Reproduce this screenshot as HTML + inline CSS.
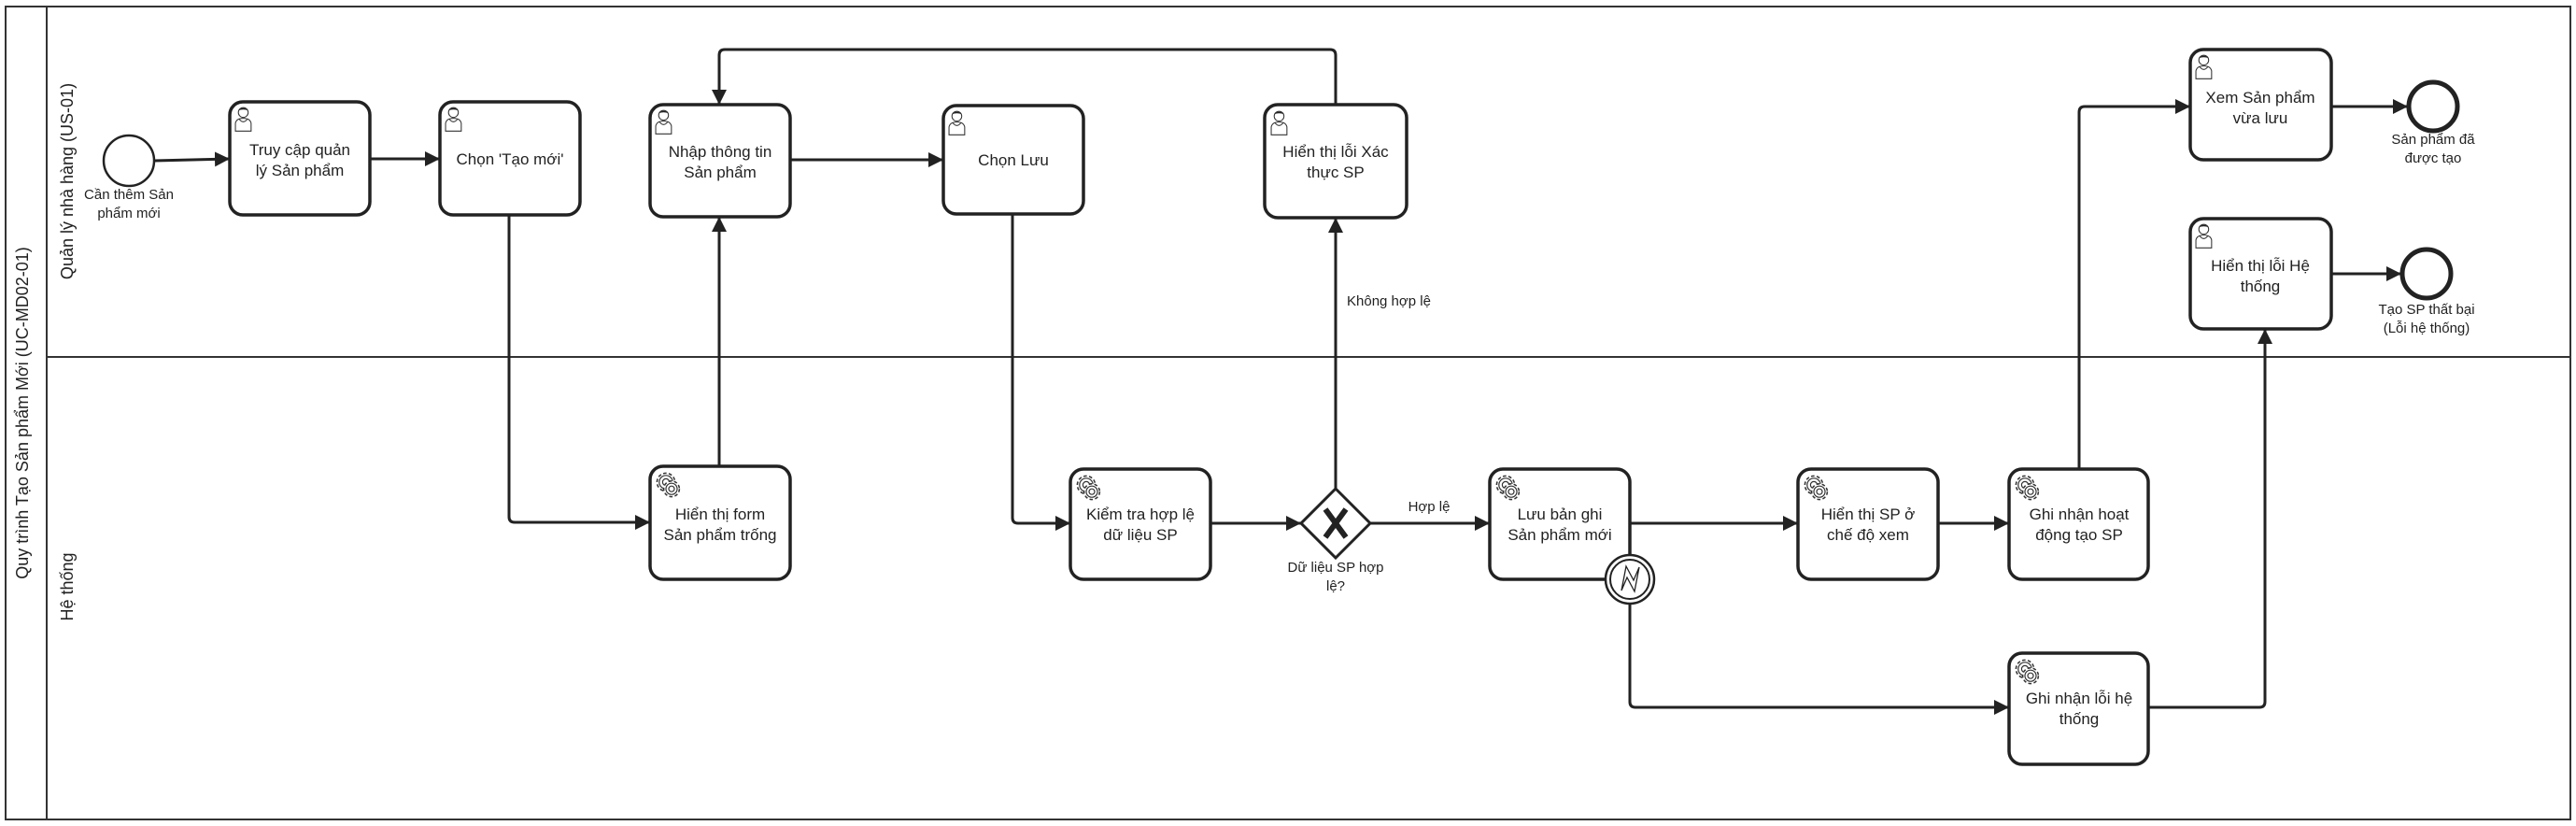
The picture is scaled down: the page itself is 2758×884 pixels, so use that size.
<!DOCTYPE html>
<html><head><meta charset="utf-8"><style>
html,body{margin:0;padding:0;background:#fff}
svg{display:block}
text{font-family:"Liberation Sans",Arial,sans-serif;fill:#222}
.t{font-size:17px;text-anchor:middle}
.s{font-size:15px;text-anchor:middle}
</style></head><body>
<svg width="2758" height="884" viewBox="0 0 2758 884" xmlns="http://www.w3.org/2000/svg">
<defs>
<marker id="ar" viewBox="0 0 12 12" refX="12" refY="6" markerWidth="16" markerHeight="16" orient="auto" markerUnits="userSpaceOnUse">
<path d="M0,0 L12,6 L0,12 z" fill="#222"/></marker>
<g id="user"><circle cx="9" cy="7" r="5" fill="#fff" stroke="#333" stroke-width="1"/><path d="M4,5 Q9,0 14,5 Q9,3 4,5z" fill="#222"/><path d="M1,26 L1,18 Q2,13 9,13 Q16,13 17,18 L17,26 Z" fill="#fff" stroke="#333" stroke-width="1"/><path d="M5,14 Q9,19 13,14" fill="none" stroke="#333" stroke-width="1"/></g>
<g id="gear"><circle cx="10" cy="10" r="8" fill="none" stroke="#333" stroke-width="1.3" stroke-dasharray="3 2"/><circle cx="10" cy="10" r="6" fill="#fff" stroke="#333" stroke-width="1"/><circle cx="10" cy="10" r="3" fill="none" stroke="#333" stroke-width="1"/><circle cx="15" cy="16" r="7" fill="#fff" stroke="#333" stroke-width="1.3" stroke-dasharray="3 2"/><circle cx="15" cy="16" r="5" fill="#fff" stroke="#333" stroke-width="1"/><circle cx="15" cy="16" r="2.5" fill="none" stroke="#333" stroke-width="1"/></g>
</defs>

<g fill="none" stroke="#333" stroke-width="2">
<rect x="6" y="7" width="2746" height="870"/>
<line x1="50" y1="7" x2="50" y2="877"/>
<line x1="50" y1="382" x2="2752" y2="382"/>
</g>
<text font-size="18" text-anchor="middle" transform="translate(30,442) rotate(-90)">Quy trình Tạo Sản phẩm Mới (UC-MD02-01)</text>
<text font-size="18" text-anchor="middle" transform="translate(78,194) rotate(-90)">Quản lý nhà hàng (US-01)</text>
<text font-size="18" text-anchor="middle" transform="translate(78,628) rotate(-90)">Hệ thống</text>

<g fill="none" stroke="#222" stroke-width="3" marker-end="url(#ar)">
<path d="M165,172 L246,170"/>
<path d="M396,170 L471,170"/>
<path d="M545,230 L545,553 Q545,559 551,559 L696,559"/>
<path d="M770,499 L770,232"/>
<path d="M845,171 L1010,171"/>
<path d="M1430,112 L1430,59 Q1430,53 1424,53 L776,53 Q770,53 770,59 L770,112"/>
<path d="M1084,229 L1084,554 Q1084,560 1090,560 L1146,560"/>
<path d="M1295,560 L1393,560"/>
<path d="M1430,523 L1430,233"/>
<path d="M1467,560 L1595,560"/>
<path d="M1745,560 L1925,560"/>
<path d="M2075,560 L2151,560"/>
<path d="M2226,502 L2226,120 Q2226,114 2232,114 L2345,114"/>
<path d="M2496,114 L2578,114"/>
<path d="M2496,293 L2571,293"/>
<path d="M1745,646 L1745,751 Q1745,757 1751,757 L2151,757"/>
<path d="M2300,757 L2419,757 Q2425,757 2425,751 L2425,352"/>
</g>

<g fill="#fff" stroke="#222" stroke-width="3.5">
<rect x="246" y="109" width="150" height="121" rx="14"/>
<rect x="471" y="109" width="150" height="121" rx="14"/>
<rect x="696" y="112" width="150" height="120" rx="14"/>
<rect x="1010" y="113" width="150" height="116" rx="14"/>
<rect x="1354" y="112" width="152" height="121" rx="14"/>
<rect x="696" y="499" width="150" height="121" rx="14"/>
<rect x="1146" y="502" width="150" height="118" rx="14"/>
<rect x="1595" y="502" width="150" height="118" rx="14"/>
<rect x="1925" y="502" width="150" height="118" rx="14"/>
<rect x="2151" y="502" width="149" height="118" rx="14"/>
<rect x="2151" y="699" width="149" height="119" rx="14"/>
<rect x="2345" y="53" width="151" height="118" rx="14"/>
<rect x="2345" y="234" width="151" height="118" rx="14"/>
</g>
<g transform="translate(251,113) scale(1.05)"><use href="#user"/></g>
<g transform="translate(476,113) scale(1.05)"><use href="#user"/></g>
<g transform="translate(701,116) scale(1.05)"><use href="#user"/></g>
<g transform="translate(1015,117) scale(1.05)"><use href="#user"/></g>
<g transform="translate(1360,117) scale(1.05)"><use href="#user"/></g>
<g transform="translate(2350,57) scale(1.05)"><use href="#user"/></g>
<g transform="translate(2350,238) scale(1.05)"><use href="#user"/></g>
<g transform="translate(701,504) scale(1.2)"><use href="#gear"/></g>
<g transform="translate(1151,507) scale(1.2)"><use href="#gear"/></g>
<g transform="translate(1600,507) scale(1.2)"><use href="#gear"/></g>
<g transform="translate(1930,507) scale(1.2)"><use href="#gear"/></g>
<g transform="translate(2156,507) scale(1.2)"><use href="#gear"/></g>
<g transform="translate(2156,704) scale(1.2)"><use href="#gear"/></g>

<g class="t">
<text x="321" y="166">Truy cập quản</text><text x="321" y="188">lý Sản phẩm</text>
<text x="546" y="176">Chọn 'Tạo mới'</text>
<text x="771" y="168">Nhập thông tin</text><text x="771" y="190">Sản phẩm</text>
<text x="1085" y="177">Chọn Lưu</text>
<text x="1430" y="168">Hiển thị lỗi Xác</text><text x="1430" y="190">thực SP</text>
<text x="771" y="556">Hiển thị form</text><text x="771" y="578">Sản phẩm trống</text>
<text x="1221" y="556">Kiểm tra hợp lệ</text><text x="1221" y="578">dữ liệu SP</text>
<text x="1670" y="556">Lưu bản ghi</text><text x="1670" y="578">Sản phẩm mới</text>
<text x="2000" y="556">Hiển thị SP ở</text><text x="2000" y="578">chế độ xem</text>
<text x="2226" y="556">Ghi nhận hoạt</text><text x="2226" y="578">động tạo SP</text>
<text x="2226" y="753">Ghi nhận lỗi hệ</text><text x="2226" y="775">thống</text>
<text x="2420" y="110">Xem Sản phẩm</text><text x="2420" y="132">vừa lưu</text>
<text x="2420" y="290">Hiển thị lỗi Hệ</text><text x="2420" y="312">thống</text>
</g>

<circle cx="138" cy="172" r="27" fill="#fff" stroke="#222" stroke-width="2.5"/>
<circle cx="2605" cy="114" r="26" fill="#fff" stroke="#222" stroke-width="5"/>
<circle cx="2598" cy="293" r="26" fill="#fff" stroke="#222" stroke-width="5"/>
<circle cx="1745" cy="620" r="26" fill="#fff" stroke="#222" stroke-width="2.5"/>
<circle cx="1745" cy="620" r="21" fill="#fff" stroke="#222" stroke-width="2"/>
<path d="M1736,632 L1741,606 L1749,621 L1755,607 L1750,633 L1742,618 Z" fill="none" stroke="#222" stroke-width="1.3"/>

<path d="M1430,523 L1467,560 L1430,597 L1393,560 Z" fill="#fff" stroke="#222" stroke-width="3"/>
<path d="M1419,545 L1441,575 M1441,545 L1419,575" stroke="#222" stroke-width="6"/>

<g class="s">
<text x="138" y="213">Cần thêm Sản</text><text x="138" y="233">phẩm mới</text>
<text x="1442" y="327" style="text-anchor:start">Không hợp lệ</text>
<text x="1530" y="547">Hợp lệ</text>
<text x="1430" y="612">Dữ liệu SP hợp</text><text x="1430" y="632">lệ?</text>
<text x="2605" y="154">Sản phẩm đã</text><text x="2605" y="174">được tạo</text>
<text x="2598" y="336">Tạo SP thất bại</text><text x="2598" y="356">(Lỗi hệ thống)</text>
</g>
</svg>
</body></html>
